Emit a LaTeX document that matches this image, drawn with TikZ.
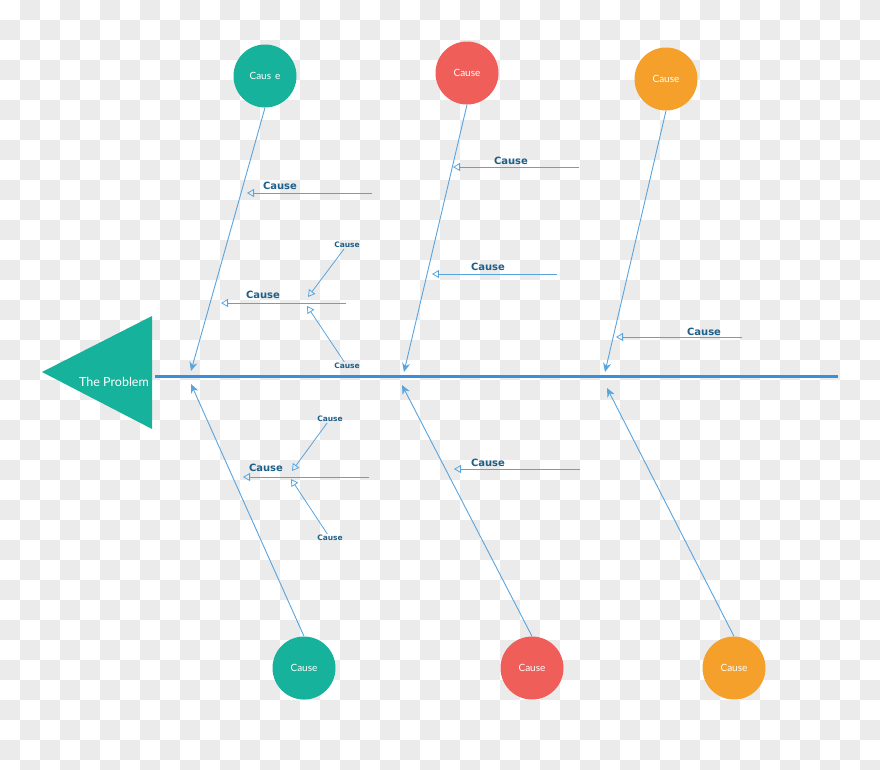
\documentclass[tikz,border=0pt]{standalone}
\usepackage{fontspec}
\usetikzlibrary{arrows.meta}
\newfontfamily\circfont{Lato}
\newfontfamily\labfont{DejaVu Sans}
\definecolor{fishteal}{HTML}{17B29C}
\definecolor{fishred}{HTML}{F05E5A}
\definecolor{fishorange}{HTML}{F5A02A}
\definecolor{boneblue}{HTML}{5AA4DD}
\definecolor{spineblue}{HTML}{3A8FD8}
\definecolor{labblue}{HTML}{1D5F88}
\definecolor{checker}{HTML}{EBEBEB}
\tikzstyle{cause}=[circle, minimum size=63pt, inner sep=0pt, text=white, font=\circfont\fontsize{10}{12}\selectfont]
\tikzstyle{bone}=[draw=boneblue, line width=0.9pt, -{Stealth[length=9pt,width=8pt]}]
\tikzstyle{twig}=[draw=boneblue, line width=0.8pt, -{Triangle[open,length=7pt,width=8pt]}]
\tikzstyle{lbl}=[text=labblue, inner sep=0pt, font=\labfont\bfseries\fontsize{10}{12}\selectfont]
\tikzstyle{slbl}=[text=labblue, inner sep=1pt, font=\labfont\bfseries\fontsize{7.5}{9}\selectfont]

\begin{document}
\begin{tikzpicture}[x=1pt, y=-1pt]
                \useasboundingbox (0,0) rectangle (880,769);
                % background squares
                \foreach \j in {0,...,38}
                    \foreach \i in {0,...,43} {
                        \pgfmathtruncatemacro\odd{mod(\i+\j,2)}
                        \ifnum\odd=1 \fill[fill=checker] (20*\i,20*\j) rectangle +(20,20); \fi
                    }
                % head and spine
                \fill[fishteal] (42,372) -- (152,316) -- (152,429) -- cycle;
                \node[text=white, font=\circfont\fontsize{12.5}{14}\selectfont] (prob) at (114,382) {The Problem};
                \coordinate (spl) at (155,376);
                \coordinate (spr) at (838,376);
                \draw[spineblue, line width=3pt] (spl)--(spr);
                % causes
                \node[cause, fill=fishteal] (c1) at (265,76) {Caus\hspace{4pt}e};
                \node[cause, fill=fishred] (c2) at (467,73) {Cause};
                \node[cause, fill=fishorange] (c3) at (666,79) {Cause};
                \node[cause, fill=fishteal] (c4) at (304,668) {Cause};
                \node[cause, fill=fishred] (c5) at (532,668) {Cause};
                \node[cause, fill=fishorange] (c6) at (734,668) {Cause};
                \coordinate (t1) at (191,371);
                \coordinate (t2) at (404,372);
                \coordinate (t3) at (605,372);
                \coordinate (t4) at (191,384);
                \coordinate (t5) at (402,385);
                \coordinate (t6) at (607,388);
                \draw[bone] (c1.south)--(t1);
                \draw[bone] (c2.south)--(t2);
                \draw[bone] (c3.south)--(t3);
                \draw[bone] (c4.north)--(t4);
                \draw[bone] (c5.north)--(t5);
                \draw[bone] (c6.north)--(t6);
                % sub-causes
                \node[lbl] (l1) at (280,186) {Cause};
                \node[lbl] (l2) at (263,295) {Cause};
                \node[lbl] (l3) at (511,161) {Cause};
                \node[lbl] (l4) at (488,267) {Cause};
                \node[lbl] (l5) at (704,332) {Cause};
                \node[lbl] (l6) at (266,468) {Cause};
                \node[lbl] (l7) at (488,463) {Cause};
                \coordinate (a1) at (372,193);
                \coordinate (b1) at (247,193);
                \coordinate (a2) at (346,303);
                \coordinate (b2) at (221,303);
                \coordinate (a3) at (579,167);
                \coordinate (b3) at (453,167);
                \coordinate (a4) at (557,274);
                \coordinate (b4) at (432,274);
                \coordinate (a5) at (742,337);
                \coordinate (b5) at (616,337);
                \coordinate (a6) at (369,477);
                \coordinate (b6) at (243,477);
                \coordinate (a7) at (580,469);
                \coordinate (b7) at (454,469);
                \draw[twig] (a1)--(b1);
                \draw[twig] (a2)--(b2);
                \draw[twig] (a3)--(b3);
                \draw[twig] (a4)--(b4);
                \draw[twig] (a5)--(b5);
                \draw[twig] (a6)--(b6);
                \draw[twig] (a7)--(b7);
                % small causes
                \node[slbl] (s1) at (347,245) {Cause};
                \node[slbl] (s2) at (347,366) {Cause};
                \node[slbl] (s3) at (330,419) {Cause};
                \node[slbl] (s4) at (330,538) {Cause};
                \coordinate (u1) at (308,297);
                \coordinate (u2) at (307,306);
                \coordinate (u3) at (292,471);
                \coordinate (u4) at (291,479);
                \draw[twig] (s1)--(u1);
                \draw[twig] (s2)--(u2);
                \draw[twig] (s3)--(u3);
                \draw[twig] (s4)--(u4);
            \end{tikzpicture}
\end{document}
